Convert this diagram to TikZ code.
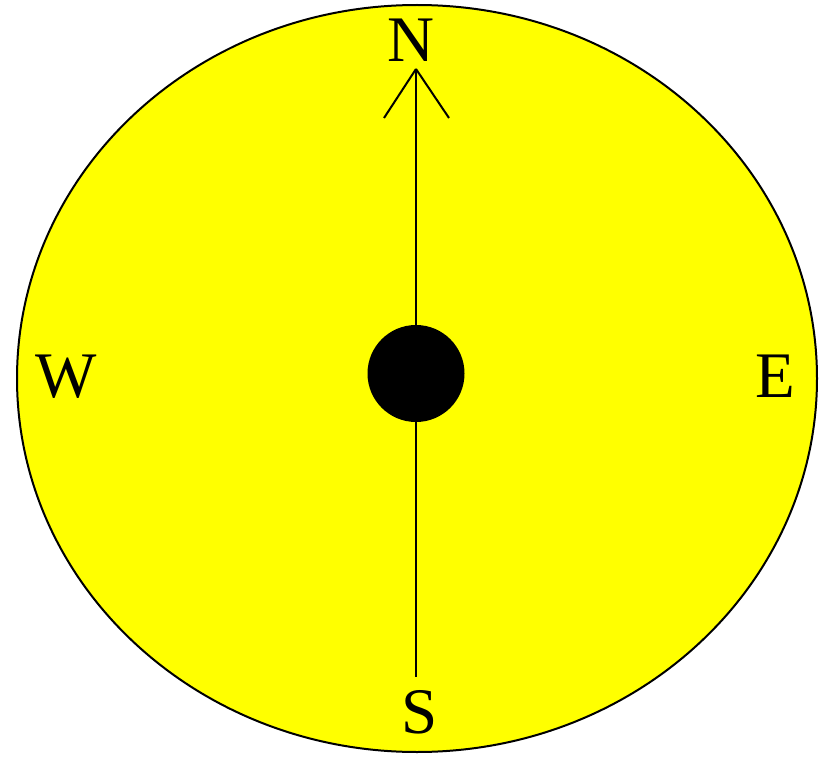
\documentclass[tikz,border=0pt]{standalone}
\usepackage{fontspec}
\setmainfont{Liberation Serif}
\usetikzlibrary{shapes.geometric}
\definecolor{dialyellow}{RGB}{255,255,0}
\begin{document}
\begin{tikzpicture}[x=1pt,y=-1pt,
  stroke/.style={line width=2pt,draw=black},
  compass/.style={font=\fontsize{65}{65}\selectfont,anchor=base,inner sep=0pt}]
\useasboundingbox (0,0) rectangle (825,757);
\node[stroke,fill=dialyellow,ellipse,minimum width=800pt,minimum height=747pt,inner sep=0pt] (dial) at (417,378.5) {};
\node[circle,fill=black,minimum size=97pt,inner sep=0pt] (hub) at (416,373.5) {};
\coordinate (ntip) at (416,69);
\coordinate (sbot) at (416,677);
\draw[stroke] (hub.north) -- (ntip);
\draw[stroke] (hub.south) -- (sbot);
\draw[stroke] (ntip) -- ++(-32,49);
\draw[stroke] (ntip) -- ++(33,49);
\node[compass] (n) at (411,62) {N};
\node[compass] (s) at (420,733) {S};
\node[compass] (w) at (66,397) {W};
\node[compass] (e) at (775,397) {E};
\end{tikzpicture}
\end{document}
